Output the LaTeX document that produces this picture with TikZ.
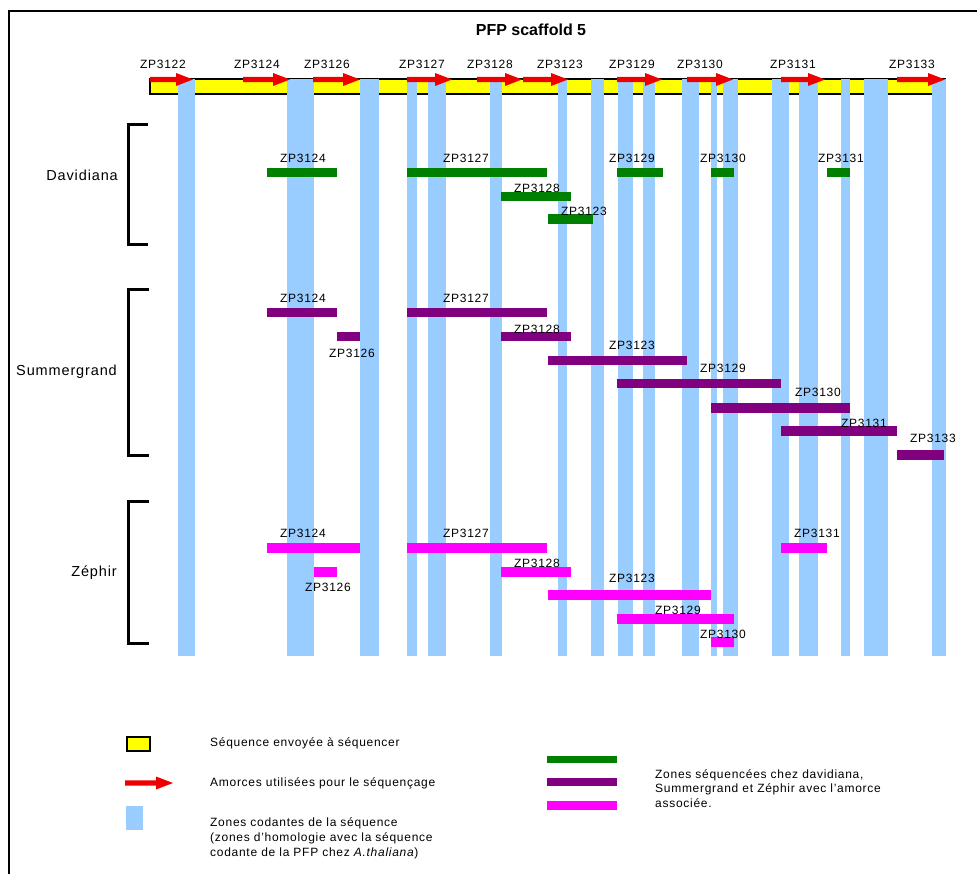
\documentclass[tikz,border=0pt]{standalone}
\usepackage{fontspec}
\setmainfont{Liberation Sans}
\definecolor{stripeblue}{RGB}{153,204,255}
\definecolor{seqyellow}{RGB}{255,255,0}
\definecolor{primerred}{RGB}{238,0,0}
\definecolor{dgreen}{RGB}{0,128,0}
\definecolor{dpurple}{RGB}{128,0,128}
\definecolor{dmagenta}{RGB}{255,0,255}
\newcommand\primerarrow[3]{%
  \fill[primerred] (#1,#3-2.7) -- (#2-17,#3-2.7) -- (#2-17,#3-6.5) -- (#2,#3) -- (#2-17,#3+6.5) -- (#2-17,#3+2.7) -- (#1,#3+2.7) -- cycle;}
\begin{document}
\begin{tikzpicture}[x=1pt,y=-1pt,
  lbl/.style={font=\fontsize{12}{14}\selectfont\addfontfeature{LetterSpace=6}, inner sep=0pt, text=black},
  rowlbl/.style={font=\fontsize{14.5}{16}\selectfont\addfontfeature{LetterSpace=6}, inner sep=0pt, anchor=east},
  leg/.style={font=\fontsize{12}{14}\selectfont\addfontfeature{LetterSpace=6}, inner sep=0pt, anchor=west},
  bracketline/.style={line width=3pt, line cap=butt},
  stripe/.style={fill=stripeblue}]
\useasboundingbox (0,0) rectangle (977,874);
\fill[white] (0,0) rectangle (977,874);
% frame
\draw[line width=2pt] (9,874) -- (9,11) -- (977,11);
% title
\node[font=\fontsize{16}{18}\selectfont\bfseries, inner sep=0pt] (title) at (531,30) {PFP scaffold 5};
% sequence bar
\draw[fill=seqyellow, line width=1.2pt] (150,79) rectangle (945,94);
% coding zones
\foreach \a/\b in {178/195,287/314,360/379,407/417,428/446,490/502,558/567,591/604,618/633,643/655,682/699,711/717,723/738,772/789,799/818,841/850,864/888,932/946}
  \fill[stripe] (\a,79) rectangle (\b,656);
% primers
\foreach \a/\b/\lab/\cx [count=\i] in {150/193/ZP3122/163,243/290/ZP3124/257,313/360/ZP3126/327,407/452/ZP3127/422,477/522/ZP3128/490,523/568/ZP3123/560,617/662/ZP3129/632,687/733/ZP3130/700,781/825/ZP3131/793,897/945/ZP3133/912}{
  \primerarrow{\a}{\b}{79.5}
  \node[lbl] (top-\i) at (\cx,64.5) {\lab};
}
% Davidiana
\draw[bracketline] (148,125) -- (128.5,125) -- (128.5,245) -- (148,245);
\node[rowlbl] (davidiana) at (118,175) {Davidiana};
\foreach \a/\b/\y/\lab/\lx/\ly [count=\i] in {267/337/168/ZP3124/303/158,407/547/168/ZP3127/466/158,501/571/192/ZP3128/537/188,548/593/214.5/ZP3123/584/211,617/663/168/ZP3129/632/158,711/734/168/ZP3130/723/158,827/850/168/ZP3131/841/158}{
  \fill[dgreen] (\a,\y) rectangle (\b,\y+9.5);
  \node[lbl] (dav-\i) at (\lx,\ly) {\lab};
}
% Summergrand
\draw[bracketline] (149,290) -- (128.5,290) -- (128.5,455) -- (149,455);
\node[rowlbl] (summergrand) at (117,372) {Summergrand};
\foreach \a/\b/\y/\lab/\lx/\ly [count=\i] in {267/337/308/ZP3124/303/298,337/360/332/ZP3126/352/353,407/547/308/ZP3127/466/298,501/571/332/ZP3128/537/329,548/687/356/ZP3123/632/345,617/781/379/ZP3129/723/368,711/850/403/ZP3130/818/392,781/897/426/ZP3131/864/423,897/944/450/ZP3133/933/438}{
  \fill[dpurple] (\a,\y) rectangle (\b,\y+9.5);
  \node[lbl] (sum-\i) at (\lx,\ly) {\lab};
}
% Zephir
\draw[bracketline] (149,501) -- (128.5,501) -- (128.5,643) -- (149,643);
\node[rowlbl] (zephir) at (117,573) {Zéphir};
\foreach \a/\b/\y/\lab/\lx/\ly [count=\i] in {267/360/543/ZP3124/303/533,314/337/567/ZP3126/328/587,407/547/543/ZP3127/466/533,501/571/567/ZP3128/537/563,548/711/590/ZP3123/632/578,617/734/614/ZP3129/678/610,711/734/637/ZP3130/723/634,781/827/543/ZP3131/817/533}{
  \fill[dmagenta] (\a,\y) rectangle (\b,\y+9.5);
  \node[lbl] (zep-\i) at (\lx,\ly) {\lab};
}
% legend
\draw[fill=seqyellow, line width=1.2pt] (127,737) rectangle (150,751);
\node[leg] (leg1) at (210,743) {Séquence envoyée à séquencer};
\primerarrow{125}{173}{783}
\node[leg] (leg2) at (210,783) {Amorces utilisées pour le séquençage};
\fill[stripe] (126,806) rectangle (143,830);
\node[leg] (leg3a) at (210,823) {Zones codantes de la séquence};
\node[leg] (leg3b) at (210,838) {(zones d'homologie avec la séquence};
\node[leg] (leg3c) at (210,853) {codante de la PFP chez \textit{A.thaliana})};
\fill[dgreen] (547,756) rectangle (617,763);
\fill[dpurple] (547,778) rectangle (617,786);
\fill[dmagenta] (547,801) rectangle (617,810);
\node[leg] (leg4a) at (655,775) {Zones séquencées chez davidiana,};
\node[leg] (leg4b) at (655,789) {Summergrand et Zéphir avec l'amorce};
\node[leg] (leg4c) at (655,803) {associée.};
\end{tikzpicture}
\end{document}
